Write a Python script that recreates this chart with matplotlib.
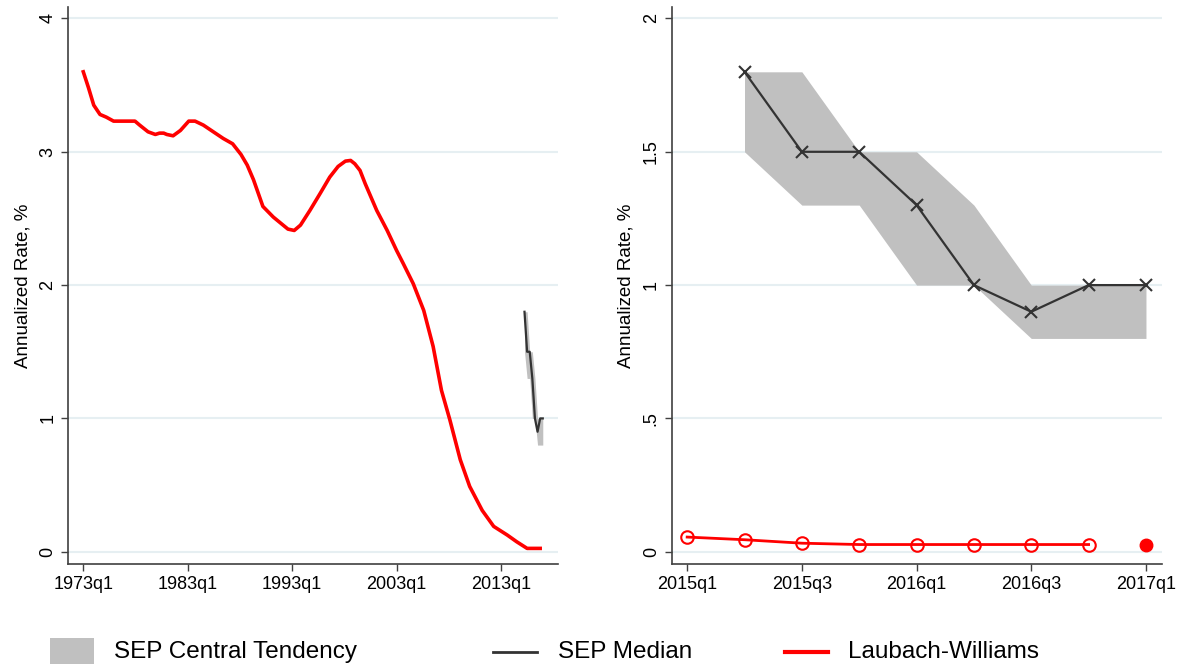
import matplotlib
matplotlib.use("Agg")
import matplotlib.pyplot as plt
from matplotlib.lines import Line2D
from matplotlib.patches import Rectangle

plt.rcParams['font.family'] = ['Liberation Sans', 'DejaVu Sans']

# Laubach-Williams r* estimate, long history (year as decimal, % annualized)
lw_years = [1973.0, 1973.5, 1974.0, 1974.6, 1975.2, 1975.9, 1977.0, 1977.95,
            1978.4, 1979.2, 1979.9, 1980.3, 1980.7, 1981.0, 1981.6, 1982.3,
            1983.1, 1983.7, 1984.5, 1985.45, 1986.4, 1987.3, 1988.1, 1988.7,
            1989.3, 1990.2, 1991.2, 1992.6, 1993.2, 1993.8, 1994.7, 1995.7,
            1996.6, 1997.4, 1998.1, 1998.6, 1999.0, 1999.5, 2000.0, 2001.1,
            2002.1, 2003.0, 2003.65, 2004.6, 2005.6, 2006.5, 2007.3, 2008.1,
            2009.1, 2010.0, 2011.2, 2012.3, 2013.6, 2014.5, 2015.5, 2016.75]
lw_values = [3.60, 3.48, 3.35, 3.28, 3.26, 3.23, 3.23, 3.23,
             3.20, 3.15, 3.13, 3.14, 3.14, 3.13, 3.12, 3.16,
             3.23, 3.23, 3.20, 3.15, 3.10, 3.06, 2.98, 2.90,
             2.79, 2.59, 2.51, 2.42, 2.41, 2.45, 2.56, 2.69,
             2.81, 2.89, 2.93, 2.935, 2.91, 2.86, 2.76, 2.56,
             2.41, 2.26, 2.16, 2.01, 1.81, 1.54, 1.21, 0.99,
             0.69, 0.49, 0.31, 0.19, 0.125, 0.075, 0.025, 0.025]

# SEP projections, 2015q2 - 2017q1
sep_x = [2015.25, 2015.5, 2015.75, 2016.0, 2016.25, 2016.5, 2016.75, 2017.0]
sep_median = [1.8, 1.5, 1.5, 1.3, 1.0, 0.9, 1.0, 1.0]
sep_low = [1.5, 1.3, 1.3, 1.0, 1.0, 0.8, 0.8, 0.8]
sep_high = [1.8, 1.8, 1.5, 1.5, 1.3, 1.0, 1.0, 1.0]

# Laubach-Williams, recent quarters
lw_recent_x = [2015.0, 2015.25, 2015.5, 2015.75, 2016.0, 2016.25, 2016.5, 2016.75]
lw_recent = [0.055, 0.045, 0.032, 0.027, 0.027, 0.027, 0.027, 0.027]
lw_last_x = 2017.0
lw_last = 0.027

left_ticks = [1973, 1983, 1993, 2003, 2013]
left_labels = ['1973q1', '1983q1', '1993q1', '2003q1', '2013q1']
right_ticks = [2015.0, 2015.5, 2016.0, 2016.5, 2017.0]
right_labels = ['2015q1', '2015q3', '2016q1', '2016q3', '2017q1']

BAND = '#c0c0c0'
MED = '#333333'
RED = '#ff0000'
GRID = '#e6eff2'
SPINE = '#404040'

fig = plt.figure(figsize=(11.79, 6.68), dpi=100)
ax1 = fig.add_axes([0.0578, 0.1557, 0.4155, 0.8338])
ax2 = fig.add_axes([0.5696, 0.1557, 0.4163, 0.8338])


def style(ax):
    for s in ['top', 'right']:
        ax.spines[s].set_visible(False)
    for s in ['left', 'bottom']:
        ax.spines[s].set_color(SPINE)
        ax.spines[s].set_linewidth(1.2)
    ax.tick_params(axis='both', direction='out', length=5, width=1.0,
                   color=SPINE, labelsize=13)
    ax.yaxis.grid(True, color=GRID, linewidth=1.5)
    ax.set_axisbelow(True)
    for lab in ax.get_yticklabels():
        lab.set_rotation(90)
        lab.set_va('center')
    ax.set_ylabel('Annualized Rate, %', fontsize=13.5, labelpad=6)


# left panel: long history
ax1.fill_between(sep_x, sep_low, sep_high, color=BAND, linewidth=0)
ax1.plot(sep_x, sep_median, color=MED, linewidth=1.6)
ax1.plot(lw_years, lw_values, color=RED, linewidth=2.6,
         solid_joinstyle='round')
ax1.set_xlim(1971.55, 2018.46)
ax1.set_ylim(-0.092, 4.086)
ax1.set_xticks(left_ticks)
ax1.set_xticklabels(left_labels)
ax1.set_yticks([0, 1, 2, 3, 4])
ax1.set_yticklabels(['0', '1', '2', '3', '4'])
style(ax1)

# right panel: recent detail
ax2.fill_between(sep_x, sep_low, sep_high, color=BAND, linewidth=0)
ax2.plot(sep_x, sep_median, color=MED, linewidth=1.6, marker='x',
         markersize=8, markeredgewidth=1.5)
ax2.plot(lw_recent_x, lw_recent, color=RED, linewidth=2.0, marker='o',
         markersize=9, markerfacecolor='none', markeredgewidth=1.5)
ax2.plot([lw_last_x], [lw_last], color=RED, marker='o', markersize=9,
         linestyle='none')
ax2.set_xlim(2014.932, 2017.0715)
ax2.set_ylim(-0.046, 2.043)
ax2.set_xticks(right_ticks)
ax2.set_xticklabels(right_labels)
ax2.set_yticks([0, 0.5, 1, 1.5, 2])
ax2.set_yticklabels(['0', '.5', '1', '1.5', '2'])
style(ax2)

# legend along the bottom (figure pixel coords -> fraction)
W, H = 1179.0, 668.0
yc = 1 - 652 / H
fig.add_artist(Rectangle((50 / W, 1 - 664 / H), 44 / W, 26 / H,
                         transform=fig.transFigure, color=BAND, linewidth=0))
fig.text(114 / W, yc, 'SEP Central Tendency', fontsize=17.5, va='center')
fig.add_artist(Line2D([493 / W, 537 / W], [yc, yc], transform=fig.transFigure,
                      color=MED, linewidth=2.0))
fig.text(558 / W, yc, 'SEP Median', fontsize=17.5, va='center')
fig.add_artist(Line2D([785 / W, 828 / W], [yc, yc], transform=fig.transFigure,
                      color=RED, linewidth=3.0))
fig.text(848 / W, yc, 'Laubach-Williams', fontsize=17.5, va='center')

fig.savefig('out.png', dpi=100)
